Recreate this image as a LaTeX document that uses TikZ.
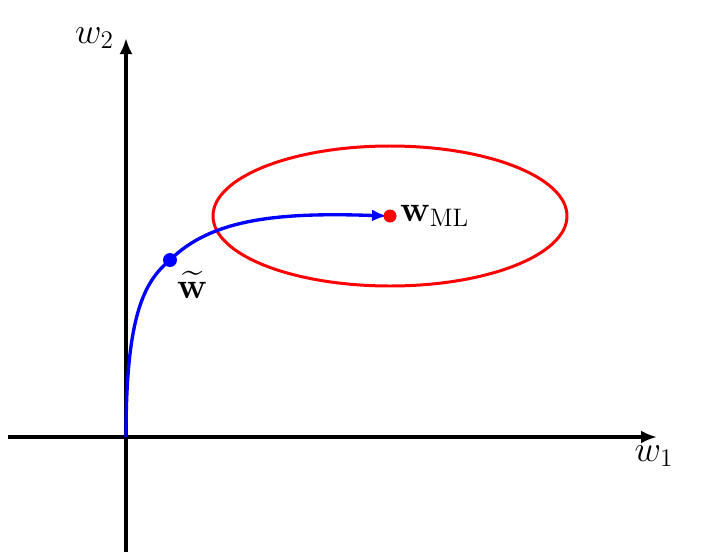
\documentclass[tikz,border=0pt]{standalone}
\usepackage{amsmath}
\usetikzlibrary{calc, positioning, arrows.meta}

\begin{document}
\begin{tikzpicture}[font=\huge]
\useasboundingbox (-2.52,-2.36) rectangle (11.62,8.74);
% Axes
\coordinate (O) at (0,0);
\draw[line width=2.4pt, -{Latex[length=0.32cm, width=0.26cm]}] (-2.36,0) -- (10.62,0) coordinate (xend);
\draw[line width=2.4pt, -{Latex[length=0.32cm, width=0.26cm]}] (0,-2.3) -- (0,7.98) coordinate (yend);
\node[below left=0.05cm and -0.45cm] at (xend) {$w_1$};
\node[left=0.12cm] at (yend) {$w_2$};
% Contour round the ML solution
\coordinate (wml) at (5.28,4.42);
\draw[red, line width=1.7pt] (wml) ellipse (3.54 and 1.4);
% Path of the weights
\coordinate (wt) at (0.88,3.54);
\draw[blue, line width=1.9pt, -{Latex[length=0.3cm, width=0.24cm]}] (O) .. controls (0,2.4) and (0.35,3.1) .. (wt)
  .. controls (1.7,4.35) and (3,4.5) .. ($(wml)+(-0.06,0)$);
% Mark points
\fill[red] (wml) circle (0.13);
\node[right=0.08cm] at (wml) {$\mathbf{w}_{\mathrm{ML}}$};
\fill[blue] (wt) circle (0.14);
\node[below right=0.1cm and 0.02cm] at (wt) {$\widetilde{\mathbf{w}}$};
\end{tikzpicture}
\end{document}
